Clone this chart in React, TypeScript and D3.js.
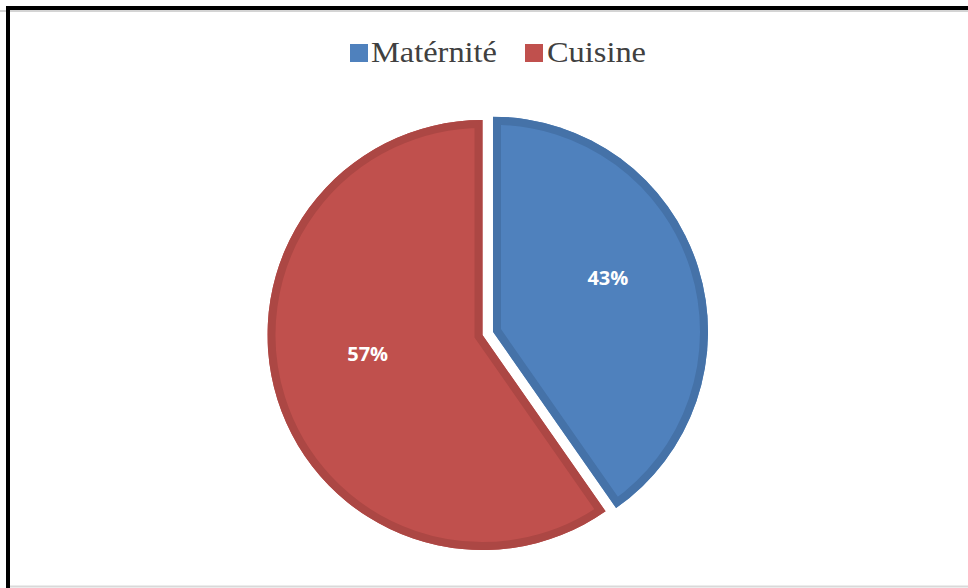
import React from "react";
import * as d3 from "d3";

// Categories and values
const categories = ["Matérnité", "Cuisine"];
const sliceShares = [40.3, 59.7];
// Data labels as printed on the chart
const dataLabels = ["43%", "57%"];
const fillColors = ["#4F81BD", "#C0504D"];
const bandColors = ["#4572A8", "#AC4744"];

const W = 968;
const H = 588;

export default function App() {
  const cx = 482.5;
  const cy = 335;
  const R = 215;
  const explode = 11;
  const band = 8;

  const pie = d3
    .pie<number>()
    .sort(null)
    .value((d) => d)
    .startAngle(0)
    .endAngle(2 * Math.PI);
  const arcs = pie(sliceShares);
  const arcGen = d3.arc<d3.PieArcDatum<number>>().innerRadius(0).outerRadius(R);

  // legend layout
  const legendY = 62;
  const fontSize = 30;

  return (
    <svg
      width={W}
      height={H}
      style={{ position: "fixed", left: 0, top: 0, background: "#fff" }}
    >
      <rect x={0} y={0} width={W} height={H} fill="#fff" />
      {/* chart frame */}
      <line x1={0} x2={W} y1={11} y2={11} stroke="#d4d4d4" strokeWidth={2} />
      <line x1={8} x2={W} y1={586.5} y2={586.5} stroke="#d9d9d9" strokeWidth={2} />
      <line x1={6} x2={W} y1={8} y2={8} stroke="#000" strokeWidth={4} />
      <line x1={8} x2={8} y1={6} y2={H} stroke="#000" strokeWidth={4} />

      {/* legend */}
      <g fontFamily="'Liberation Serif', 'Times New Roman', serif" fontSize={fontSize} fill="#404040">
        <rect x={350} y={44} width={18} height={18} fill={fillColors[0]} />
        <text x={371} y={legendY} textLength={126} lengthAdjust="spacingAndGlyphs">
          {categories[0]}
        </text>
        <rect x={525} y={44} width={18} height={18} fill={fillColors[1]} />
        <text x={547} y={legendY} textLength={99} lengthAdjust="spacingAndGlyphs">
          {categories[1]}
        </text>
      </g>

      <defs>
        {arcs.map((a, i) => (
          <clipPath id={`clip${i}`} key={i}>
            <path d={arcGen(a) || ""} />
          </clipPath>
        ))}
      </defs>

      {arcs.map((a, i) => {
        const mid = (a.startAngle + a.endAngle) / 2;
        const off = i === 0 ? explode : 0;
        const tx = cx + Math.sin(mid) * off;
        const ty = cy - Math.cos(mid) * off;
        const lr = R * 0.56;
        const lx = Math.sin(mid) * lr;
        const ly = -Math.cos(mid) * lr - 18;
        const d = arcGen(a) || "";
        return (
          <g key={i} transform={`translate(${tx},${ty})`}>
            <path d={d} fill={fillColors[i]} />
            <path
              d={d}
              fill="none"
              stroke={bandColors[i]}
              strokeWidth={band * 2}
              strokeLinejoin="miter"
              clipPath={`url(#clip${i})`}
            />
            <text
              x={lx}
              y={ly}
              textAnchor="middle"
              dominantBaseline="central"
              fill="#fff"
              fontFamily="'Open Sans', 'Liberation Sans', sans-serif"
              fontWeight="bold"
              fontSize={20}
            >
              {dataLabels[i]}
            </text>
          </g>
        );
      })}
    </svg>
  );
}
